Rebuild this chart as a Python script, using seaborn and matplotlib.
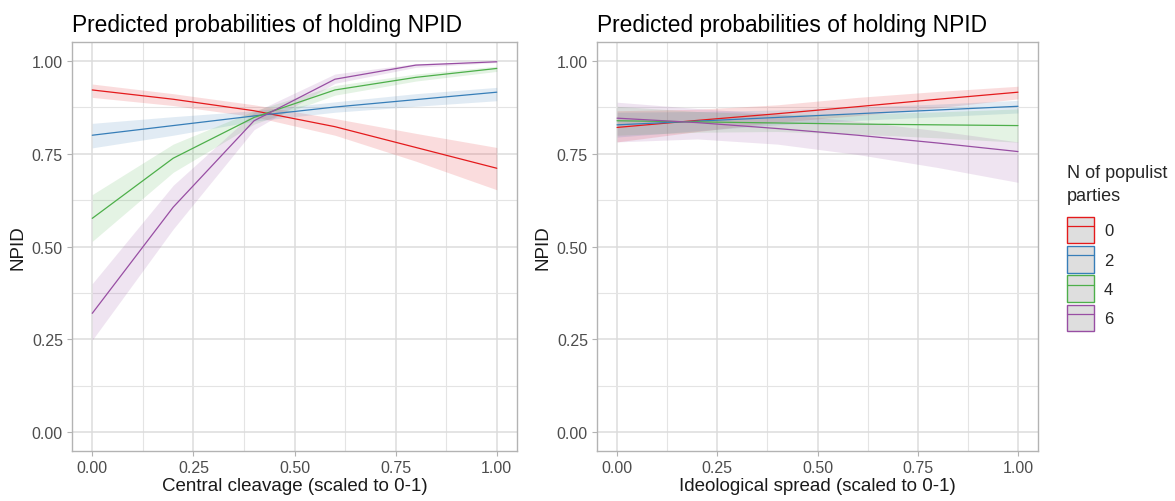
import numpy as np
import pandas as pd
import matplotlib
matplotlib.use("Agg")
import matplotlib.pyplot as plt
from matplotlib.patches import Patch
from matplotlib.lines import Line2D
import seaborn as sns

# ---- data -------------------------------------------------------------
x_vals = [0.0, 0.2, 0.4, 0.6, 0.8, 1.0]
groups = ["0", "2", "4", "6"]

# Central cleavage panel
cc_fit = {
    "0": [0.922, 0.897, 0.866, 0.823, 0.767, 0.711],
    "2": [0.800, 0.826, 0.852, 0.876, 0.896, 0.916],
    "4": [0.576, 0.738, 0.848, 0.922, 0.956, 0.980],
    "6": [0.320, 0.606, 0.839, 0.951, 0.989, 0.998],
}
cc_lo = {
    "0": [0.902, 0.880, 0.850, 0.800, 0.730, 0.653],
    "2": [0.766, 0.800, 0.838, 0.862, 0.878, 0.893],
    "4": [0.514, 0.700, 0.830, 0.908, 0.946, 0.972],
    "6": [0.248, 0.547, 0.815, 0.940, 0.983, 0.996],
}
cc_hi = {
    "0": [0.938, 0.912, 0.882, 0.845, 0.805, 0.767],
    "2": [0.832, 0.850, 0.866, 0.890, 0.912, 0.929],
    "4": [0.640, 0.776, 0.866, 0.934, 0.965, 0.986],
    "6": [0.400, 0.665, 0.862, 0.965, 0.993, 0.999],
}

# Ideological spread panel
is_fit = {
    "0": [0.821, 0.840, 0.858, 0.877, 0.897, 0.916],
    "2": [0.828, 0.838, 0.848, 0.858, 0.868, 0.878],
    "4": [0.839, 0.836, 0.833, 0.830, 0.828, 0.826],
    "6": [0.846, 0.834, 0.818, 0.800, 0.779, 0.756],
}
is_lo = {
    "0": [0.782, 0.810, 0.835, 0.853, 0.874, 0.898],
    "2": [0.795, 0.812, 0.828, 0.840, 0.850, 0.860],
    "4": [0.800, 0.808, 0.810, 0.803, 0.793, 0.781],
    "6": [0.782, 0.790, 0.776, 0.748, 0.713, 0.673],
}
is_hi = {
    "0": [0.866, 0.870, 0.882, 0.902, 0.918, 0.932],
    "2": [0.862, 0.864, 0.868, 0.876, 0.884, 0.894],
    "4": [0.878, 0.864, 0.856, 0.857, 0.863, 0.871],
    "6": [0.889, 0.872, 0.857, 0.838, 0.812, 0.782],
}

tick_vals = [0.0, 0.25, 0.5, 0.75, 1.0]
tick_labels = ["0.00", "0.25", "0.50", "0.75", "1.00"]
title_text = "Predicted probabilities of holding NPID"
xlabels = ["Central cleavage (scaled to 0-1)", "Ideological spread (scaled to 0-1)"]
legend_title = "N of populist\nparties"

palette = {"0": "#E41A1C", "2": "#377EB8", "4": "#4DAF4A", "6": "#984EA3"}

# ---- style ------------------------------------------------------------
sns.set_style("white")
plt.rcParams["font.family"] = ["Liberation Sans", "DejaVu Sans"]

fig = plt.figure(figsize=(11.75, 5.02), dpi=100)
ax_l = fig.add_axes([0.0613, 0.1004, 0.3787, 0.813])
ax_r = fig.add_axes([0.5081, 0.1004, 0.3753, 0.813])


def long_frame(fit):
    rows = []
    for g in groups:
        for xv, yv in zip(x_vals, fit[g]):
            rows.append({"x": xv, "y": yv, "group": g})
    return pd.DataFrame(rows)


def draw_panel(ax, fit, lo, hi, xlabel):
    for g in groups:
        ax.fill_between(x_vals, lo[g], hi[g], color=palette[g], alpha=0.15,
                        linewidth=0, zorder=2)
    sns.lineplot(data=long_frame(fit), x="x", y="y", hue="group",
                 palette=palette, hue_order=groups, ax=ax, linewidth=0.9,
                 legend=False, zorder=3)
    ax.set_xlim(-0.05, 1.05)
    ax.set_ylim(-0.05, 1.05)
    ax.set_xticks(tick_vals)
    ax.set_xticklabels(tick_labels)
    ax.set_yticks(tick_vals)
    ax.set_yticklabels(tick_labels)
    ax.set_xticks([0.125, 0.375, 0.625, 0.875], minor=True)
    ax.set_yticks([0.125, 0.375, 0.625, 0.875], minor=True)
    ax.grid(which="major", color="#dcdcdc", linewidth=1.1, zorder=0)
    ax.grid(which="minor", color="#e4e4e4", linewidth=0.8, zorder=0)
    ax.set_axisbelow(True)
    for sp in ax.spines.values():
        sp.set_color("#b3b3b3")
        sp.set_linewidth(1.0)
    ax.tick_params(which="major", length=3.5, color="#b3b3b3", width=0.8,
                   labelsize=11.5, labelcolor="#4d4d4d", pad=3, left=True, bottom=True)
    ax.tick_params(which="minor", length=0)
    ax.set_xlabel(xlabel, fontsize=13.5, color="#1a1a1a", labelpad=2)
    ax.set_ylabel("NPID", fontsize=13.5, color="#1a1a1a", labelpad=4)
    ax.set_title(title_text, fontsize=16.4, loc="left", pad=8, color="black")


draw_panel(ax_l, cc_fit, cc_lo, cc_hi, xlabels[0])
draw_panel(ax_r, is_fit, is_lo, is_hi, xlabels[1])

# legend: grey ribbon key with coloured outline and line
handles = []
for g in groups:
    handles.append((Patch(facecolor="#dedede", edgecolor=palette[g], linewidth=1.0),
                    Line2D([], [], color=palette[g], linewidth=0.9)))
leg = fig.legend(handles, groups, title=legend_title, loc="upper left",
                 bbox_to_anchor=(0.908, 0.672), frameon=False, fontsize=12,
                 title_fontsize=13, handlelength=1.62, handleheight=2.1,
                 labelspacing=0.15, handletextpad=0.6, borderaxespad=0,
                 borderpad=0)
leg.get_title().set_linespacing(1.5)
leg._legend_box.align = "left"
leg._legend_box.sep = 9

fig.savefig("out.png", dpi=100)
